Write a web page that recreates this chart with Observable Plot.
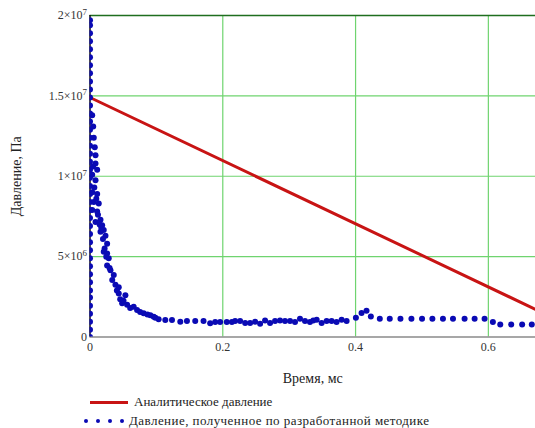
<!DOCTYPE html>
<html><head><meta charset="utf-8">
<script src="https://cdn.jsdelivr.net/npm/d3@7"></script>
<script src="https://cdn.jsdelivr.net/npm/@observablehq/plot@0.6"></script>
<style>
body{margin:0;background:#fff;font-family:"Liberation Serif","DejaVu Serif",serif;}
#chart svg{display:block}
#legend{position:relative;width:535px;height:38px;font-size:13px;color:#222;}
#legend .t{position:absolute;white-space:nowrap;line-height:14px;}
#legend .ln{position:absolute;left:90px;top:11px;width:38px;height:3px;background:#c81414;}
#legend .d{position:absolute;top:29px;width:4px;height:4px;border-radius:50%;background:#0a0ab4;}
</style></head><body>
<div id="chart"></div>
<div id="legend">
  <div class="ln"></div><div class="t" style="left:134px;top:5px">Аналитическое давление</div>
  <div class="d" style="left:84px"></div><div class="d" style="left:96px"></div><div class="d" style="left:108px"></div><div class="d" style="left:120px"></div>
  <div class="t" style="left:129px;top:24px;letter-spacing:0.45px">Давление, полученное по разработанной методике</div>
</div>
<script>
// Analytical pressure (linear), time in ms, pressure in Pa
const analyticTime = [0, 0.671];
const analyticPressure = [1.49e7, 1.72e6];

// Method results: spike column at t = 0 (pressure in MPa)
const spikePressureMPa = [0, 0.45, 0.95, 1.45, 1.95, 2.45, 2.9, 3.4, 3.9, 4.4, 4.9, 5.4, 5.9, 6.4, 6.9, 7.4, 7.9, 8.4, 8.9, 9.4, 9.9, 10.4, 10.9, 11.4, 11.9, 12.4, 12.9, 13.4, 13.9, 14.4, 14.9, 15.4, 15.9, 16.4, 16.9, 17.4, 17.9, 18.4, 18.9, 19.4, 19.7];

// Method results: decay and plateau (time ms, pressure MPa)
const methodTime = [0.0033,0.0048,0.0057,0.0072,0.0083,0.0083,0.0108,0.0033,0.0083,0.0033,0.0108,0.0057,0.0132,0.0033,0.0108,0.0158,0.0083,0.0183,0.0207,0.0158,0.0233,0.0258,0.0207,0.0258,0.0282,0.0258,0.0308,0.0358,0.0383,0.0433,0.0433,0.0533,0.0484,0.0559,0.0658,0.0709,0.0808,0.0909,0.0959,0.1034,0.1134,0.1235,0.136,0.146,0.1585,0.171,0.181,0.1886,0.196,0.206,0.2137,0.2186,0.2261,0.2337,0.2412,0.2487,0.2562,0.2637,0.2712,0.2787,0.2862,0.2937,0.3013,0.3088,0.3163,0.3238,0.3313,0.3363,0.3414,0.3489,0.3564,0.3639,0.3714,0.379,0.3865,0.4005,0.409,0.4165,0.423,0.4365,0.4515,0.4676,0.4841,0.5001,0.5157,0.5316,0.5467,0.5642,0.5793,0.5943,0.6068,0.6179,0.6344,0.6509,0.6654,
  0.0045,0.0065,0.0095,0.012,0.0145,0.017,0.0195,0.022,0.0245,0.0295,0.0335,0.0405,0.0455,0.0505,0.0605,0.0755,0.0865,0.0985];
const methodPressureMPa = [13.8,13.1,12.4,11.8,11.3,10.8,10.4,10.1,9.75,9.0,8.9,8.4,8.3,7.9,7.8,7.3,7.15,6.95,6.65,6.55,6.3,5.8,5.3,5.2,4.9,4.45,4.15,3.85,3.25,3.1,2.7,2.6,2.1,2.0,1.88,1.68,1.47,1.35,1.26,1.1,1.06,1.06,0.95,0.99,0.99,0.99,0.85,0.93,0.93,0.93,0.93,0.99,0.99,0.87,0.87,0.95,0.83,1.03,0.87,0.99,1.03,0.99,0.99,0.93,1.14,0.99,0.93,1.03,1.08,0.87,0.99,0.99,0.93,1.08,0.99,1.2,1.5,1.64,1.27,1.14,1.14,1.14,1.14,1.14,1.14,1.14,1.14,1.14,1.14,1.14,0.93,0.78,0.78,0.78,0.78,
  10.6,9.3,8.6,7.6,7.0,6.8,6.1,5.5,5.0,4.3,3.55,2.9,2.35,2.25,1.8,1.55,1.4,1.2];

const xTicks = [0, 0.2, 0.4, 0.6];
const xTickLabels = ["0", "0.2", "0.4", "0.6"];
const yTicks = [0, 5e6, 1e7, 1.5e7, 2e7];
const yTickMantissa = ["0", "5", "1", "1.5", "2"];
const yTickExponent = ["", "6", "7", "7", "7"];

const analytic = analyticTime.map((t, i) => ({t, p: analyticPressure[i]}));
const method = [
  ...spikePressureMPa.map(p => ({t: 0, p: p * 1e6})),
  ...methodTime.map((t, i) => ({t, p: methodPressureMPa[i] * 1e6}))
];

const FONT = '"Liberation Serif","DejaVu Serif",serif';
const chart = Plot.plot({
  width: 535, height: 390,
  marginLeft: 89.5, marginRight: 0, marginTop: 15, marginBottom: 53.5,
  style: {fontFamily: FONT, fontSize: "12px", color: "#333", background: "#fff"},
  x: {domain: [0, 0.671], ticks: xTicks, tickFormat: d => xTickLabels[xTicks.indexOf(d)], tickSize: 0, tickPadding: 5, label: null},
  y: {domain: [0, 2e7], ticks: yTicks, tickFormat: d => "YT" + yTicks.indexOf(d), tickSize: 0, tickPadding: 3, label: null},
  marks: [
    Plot.ruleX(xTicks.slice(1), {stroke: "#6fd46f", strokeWidth: 1.2}),
    Plot.ruleY(yTicks.slice(1, 4), {stroke: "#6fd46f", strokeWidth: 1.2}),
    Plot.ruleY([2e7], {stroke: "#1f6e1f", strokeWidth: 1.5}),
    Plot.ruleY([0], {stroke: "#8a8a8a", strokeWidth: 1.5}),
    Plot.ruleX([0], {stroke: "#111", strokeWidth: 1.5}),
    Plot.line(analytic, {x: "t", y: "p", stroke: "#c81414", strokeWidth: 3, clip: true}),
    Plot.dot(method, {x: "t", y: "p", r: 3, fill: "#0a0ab4", stroke: "none", clip: true}),
    Plot.text(["Время, мс"], {frameAnchor: "bottom", lineAnchor: "middle", textAnchor: "middle", dy: 41.5, fontSize: 14, fill: "#222"}),
    Plot.text(["Давление, Па"], {frameAnchor: "left", lineAnchor: "middle", textAnchor: "middle", dx: -73, dy: 0, rotate: -90, fontSize: 14, fill: "#222"})
  ]
});
document.getElementById("chart").append(chart);

// superscript exponents on y tick labels
const ns = "http://www.w3.org/2000/svg";
chart.querySelectorAll("text").forEach(el => {
  const m = /^YT(\d)$/.exec(el.textContent);
  if (!m) return;
  const i = +m[1];
  el.textContent = "";
  const exp = yTickExponent[i];
  if (!exp) { el.textContent = yTickMantissa[i]; return; }
  const a = document.createElementNS(ns, "tspan");
  a.textContent = yTickMantissa[i] + "×10";
  const b = document.createElementNS(ns, "tspan");
  b.textContent = exp;
  b.setAttribute("dy", "-0.5em");
  b.setAttribute("font-size", "9px");
  el.append(a, b);
});
</script>
</body></html>
